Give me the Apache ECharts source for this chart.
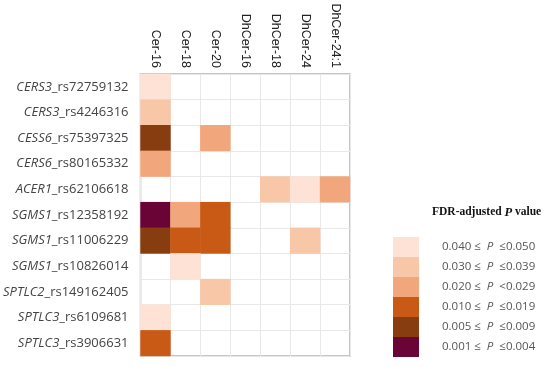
<!DOCTYPE html>
<html>
<head>
<meta charset="utf-8">
<script src="https://cdn.jsdelivr.net/npm/echarts@6/dist/echarts.min.js"></script>
<style>html,body{margin:0;padding:0;background:#fff}#c{width:550px;height:367px}</style>
</head>
<body>
<div id="c"></div>
<script>
// Columns (ceramide species)
var columns = ['Cer-16', 'Cer-18', 'Cer-20', 'DhCer-16', 'DhCer-18', 'DhCer-24', 'DhCer-24:1'];
// Row labels: gene (italic) + SNP id
var genes = ['CERS3', 'CERS3', 'CESS6', 'CERS6', 'ACER1', 'SGMS1', 'SGMS1', 'SGMS1', 'SPTLC2', 'SPTLC3', 'SPTLC3'];
var snps = ['rs72759132', 'rs4246316', 'rs75397325', 'rs80165332', 'rs62106618', 'rs12358192', 'rs11006229', 'rs10826014', 'rs149162405', 'rs6109681', 'rs3906631'];
// P-value bin codes: 1 = 0.001-0.004 ... 6 = 0.040-0.050, 0 = not significant
var levels = [
  [6, 0, 0, 0, 0, 0, 0],
  [5, 0, 0, 0, 0, 0, 0],
  [2, 0, 4, 0, 0, 0, 0],
  [4, 0, 0, 0, 0, 0, 0],
  [0, 0, 0, 0, 5, 6, 4],
  [1, 4, 3, 0, 0, 0, 0],
  [2, 3, 3, 0, 0, 5, 0],
  [0, 6, 0, 0, 0, 0, 0],
  [0, 0, 5, 0, 0, 0, 0],
  [6, 0, 0, 0, 0, 0, 0],
  [3, 0, 0, 0, 0, 0, 0]
];
var binLabels = ['0.001 ≤ {i|P} ≤0.004', '0.005 ≤ {i|P} ≤0.009', '0.010 ≤ {i|P} ≤0.019', '0.020 ≤ {i|P} <0.029', '0.030 ≤ {i|P} ≤0.039', '0.040 ≤ {i|P} ≤0.050'];
var binColors = ['#6b0436', '#873d0f', '#c95a16', '#f2a67c', '#f8c7a7', '#fde2d5'];

var data = [];
levels.forEach(function (row, r) {
  row.forEach(function (v, c) { if (v > 0) data.push([c, r, v]); });
});

var chart = echarts.init(document.getElementById('c'));
chart.setOption({
  animation: false,
  backgroundColor: '#fff',
  grid: { left: 137, top: 74, width: 213, height: 282, show: true, borderColor: '#b3b3b3', borderWidth: 1.5, backgroundColor: '#fff' },
  xAxis: {
    type: 'category', data: columns, position: 'top',
    axisLine: { show: false }, axisTick: { show: false },
    splitLine: { show: true, lineStyle: { color: '#e8e8e8', width: 1 } },
    axisLabel: { rotate: 90, margin: 6, color: '#222', fontSize: 12.5, fontFamily: 'Liberation Sans, Arial, sans-serif' }
  },
  yAxis: {
    type: 'category', data: snps, inverse: true,
    axisLine: { show: false }, axisTick: { show: false },
    splitLine: { show: true, lineStyle: { color: '#e8e8e8', width: 1 } },
    axisLabel: {
      margin: 12, color: '#444', fontSize: 13, fontFamily: 'Open Sans, sans-serif',
      formatter: function (v, i) { return '{g|' + genes[i] + '}{s|_' + snps[i] + '}'; },
      rich: {
        g: { fontStyle: 'italic', color: '#444', fontSize: 13, fontFamily: 'Open Sans, sans-serif' },
        s: { color: '#444', fontSize: 13, fontFamily: 'Open Sans, sans-serif' }
      }
    }
  },
  visualMap: {
    type: 'piecewise', orient: 'vertical', left: 378, top: 222, align: 'left',
    itemWidth: 26, itemHeight: 20, itemGap: 0, itemSymbol: 'rect', textGap: 23,
    dimension: 2, selectedMode: false,
    pieces: binLabels.map(function (l, k) { return { value: k + 1, label: l, color: binColors[k] }; }),
    textStyle: {
      color: '#555', fontSize: 11.5, fontFamily: 'Open Sans, sans-serif',
      rich: { i: { fontStyle: 'italic', color: '#555', fontSize: 11.5, fontFamily: 'Open Sans, sans-serif', padding: [0, 3, 0, 3] } }
    }
  },
  graphic: [{
    type: 'text', left: 432, top: 206,
    style: {
      text: 'FDR-adjusted {i|P} value', fill: '#111',
      font: 'bold 11.5px "Liberation Serif", serif',
      rich: { i: { fontStyle: 'italic', fontWeight: 'bold', fontFamily: 'Liberation Serif, serif', fontSize: 12.5, fill: '#111' } }
    }
  }],
  series: [{
    type: 'heatmap', data: data,
    itemStyle: { borderWidth: 0 },
    emphasis: { disabled: true }
  }]
});
</script>
</body>
</html>
